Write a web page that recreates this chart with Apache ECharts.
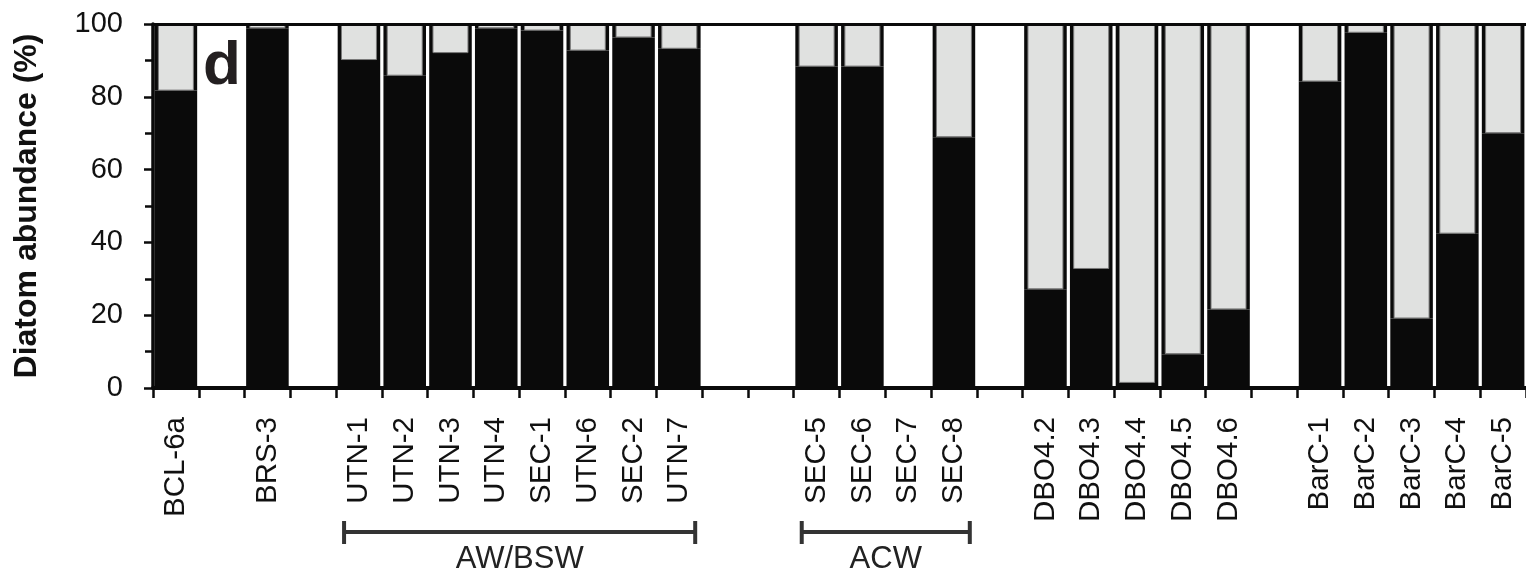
<!DOCTYPE html>
<html><head><meta charset="utf-8">
<script src="https://cdn.jsdelivr.net/npm/echarts@6/dist/echarts.min.js"></script>
<style>html,body{margin:0;padding:0;background:#fff}#c{width:1526px;height:575px}</style>
</head><body><div id="c"></div>
<script>
// Sample labels (empty strings are unlabeled gap slots)
const categories = ['BCL-6a','','BRS-3','','UTN-1','UTN-2','UTN-3','UTN-4','SEC-1','UTN-6','SEC-2','UTN-7','','','SEC-5','SEC-6','SEC-7','SEC-8','','DBO4.2','DBO4.3','DBO4.4','DBO4.5','DBO4.6','','BarC-1','BarC-2','BarC-3','BarC-4','BarC-5'];
// Diatom abundance (%), null = no bar
const diatomPct = [81.7,null,98.8,null,90.1,85.8,92.0,98.8,98.2,92.7,96.3,93.2,null,null,88.3,88.3,null,68.9,null,27.1,32.7,1.4,9.3,21.6,null,84.2,97.6,19.1,42.4,70.0];
// Remainder (%) = 100 - diatom
const otherPct = diatomPct.map(v => v == null ? null : +(100 - v).toFixed(1));
const yTicks = [0,20,40,60,80,100];
const groupNames = ['AW/BSW','ACW'];
const groupFrom = [4,14];
const groupTo = [11,17];
const panelLetter = 'd';

const FONT = 'Liberation Sans, Arial, sans-serif';
const chart = echarts.init(document.getElementById('c'));
const option = {
  animation: false,
  backgroundColor: '#fff',
  grid: {left: 153, right: -7, top: 24, bottom: 187, containLabel: false},
  xAxis: [{
    type: 'category', data: categories, position: 'bottom', z: 10,
    axisLine: {lineStyle: {color: '#0a0a0a', width: 4}},
    axisTick: {show: true, length: 10, lineStyle: {color: '#0a0a0a', width: 2.5}},
    axisLabel: {rotate: 90, interval: 0, margin: 29, fontSize: 29.5, color: '#111', fontFamily: FONT},
    splitLine: {show: false}
  }, {
    type: 'category', data: categories, position: 'top', z: 10,
    axisLine: {lineStyle: {color: '#0a0a0a', width: 3}},
    axisTick: {show: false}, axisLabel: {show: false}, splitLine: {show: false}
  }],
  yAxis: {
    type: 'value', min: 0, max: 100, interval: 20, z: 10,
    name: 'Diatom abundance (%)', nameLocation: 'middle', nameGap: 110,
    nameTextStyle: {fontSize: 32, fontWeight: 'bold', color: '#111', fontFamily: FONT},
    axisLine: {show: true, lineStyle: {color: '#0a0a0a', width: 3.5}},
    axisTick: {show: true, length: 9, lineStyle: {color: '#0a0a0a', width: 2.5}},
    minorTick: {show: true, splitNumber: 2, length: 8, lineStyle: {color: '#0a0a0a', width: 2.5}},
    axisLabel: {fontSize: 29, color: '#111', margin: 30, fontFamily: FONT,
      formatter: v => yTicks.includes(v) ? String(v) : ''},
    splitLine: {show: false}
  },
  series: [
    {name: 'Diatoms', type: 'bar', xAxisIndex: 0, stack: 'frame', data: diatomPct,
     barCategoryGap: '7%', itemStyle: {color: '#0a0a0a'}},
    {name: 'frame', type: 'bar', xAxisIndex: 0, stack: 'frame', data: otherPct,
     itemStyle: {color: '#0a0a0a'}},
    {name: 'base', type: 'bar', xAxisIndex: 1, stack: 'gray', data: diatomPct,
     barWidth: 36, itemStyle: {color: 'rgba(0,0,0,0)'}},
    {name: 'Other', type: 'bar', xAxisIndex: 1, stack: 'gray', data: otherPct,
     barWidth: 36, itemStyle: {color: '#e0e1e0', borderColor: '#7a7a7a', borderWidth: 1}}
  ],
  graphic: [{
    type: 'text', left: 203, top: 36, z: 20,
    style: {text: panelLetter, font: 'bold 62px ' + FONT, fill: '#231f20'}
  }]
};
chart.setOption(option);

// group brackets positioned via the category axis
const half = chart.convertToPixel({xAxisIndex: 0}, 1) - chart.convertToPixel({xAxisIndex: 0}, 0);
const g = [];
groupNames.forEach((name, i) => {
  const x1 = chart.convertToPixel({xAxisIndex: 0}, groupFrom[i]) - half / 2 + 8;
  const x2 = chart.convertToPixel({xAxisIndex: 0}, groupTo[i]) + half / 2 - 7;
  const y = 532;
  const ls = {stroke: '#333', lineWidth: 4};
  g.push({type: 'line', shape: {x1: x1, y1: y, x2: x2, y2: y}, style: ls, z: 20});
  g.push({type: 'line', shape: {x1: x1, y1: 521, x2: x1, y2: 544}, style: ls, z: 20});
  g.push({type: 'line', shape: {x1: x2, y1: 521, x2: x2, y2: 544}, style: ls, z: 20});
  g.push({type: 'text', x: (x1 + x2) / 2, y: 559, z: 20,
    style: {text: name, font: '31px ' + FONT, fill: '#222', textAlign: 'center', textVerticalAlign: 'middle'}});
});
chart.setOption({graphic: option.graphic.concat(g)});
</script></body></html>
